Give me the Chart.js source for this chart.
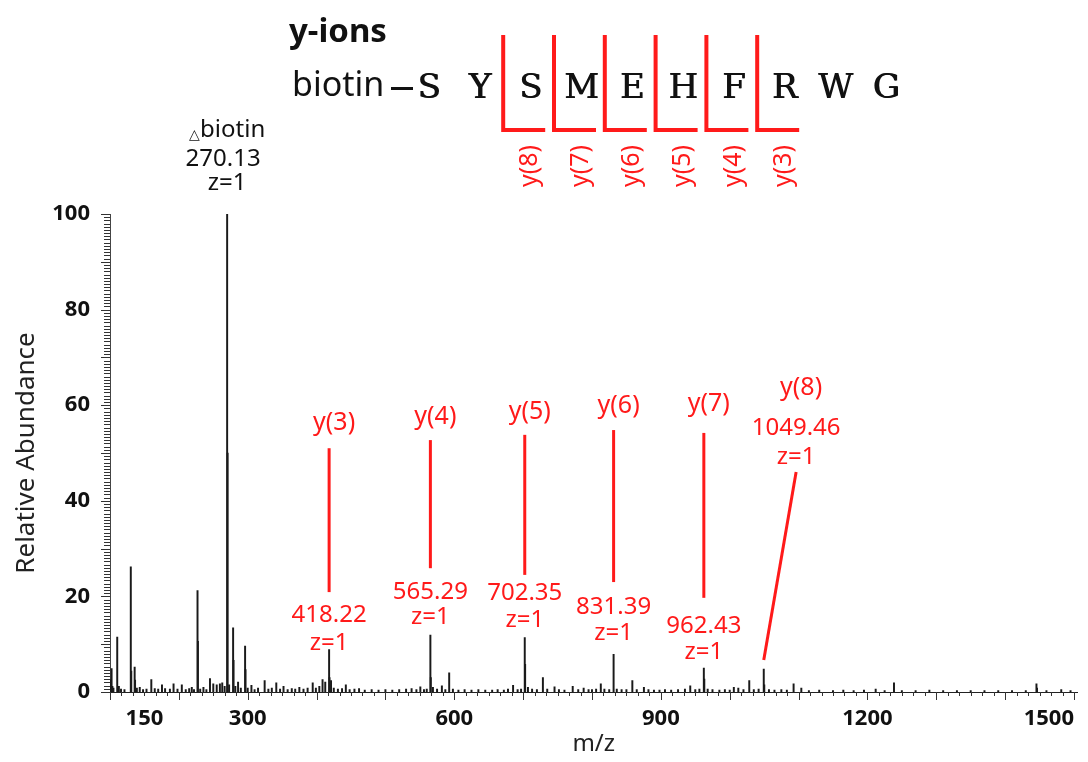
<!DOCTYPE html>
<html>
<head>
<meta charset="utf-8">
<title>biotin-SYSMEHFRWG MS/MS spectrum</title>
<script src="https://cdn.jsdelivr.net/npm/chart.js@4.4.1/dist/chart.umd.min.js"></script>
<style>
  html, body { margin: 0; padding: 0; background: #fff; }
  canvas { display: block; }
</style>
</head>
<body>
<canvas id="spectrum" width="1088" height="762"></canvas>
<script>
// Peptide drawn in the header
const sequence = ["S", "Y", "S", "M", "E", "H", "F", "R", "W", "G"];

// Annotated y-ion fragments
const ionLabels = ["y(3)", "y(4)", "y(5)", "y(6)", "y(7)", "y(8)"];
const ionMz = [418.22, 565.29, 702.35, 831.39, 962.43, 1049.46];
const ionCharge = [1, 1, 1, 1, 1, 1];

// Biotin fragment
const biotinMz = 270.13;
const biotinCharge = 1;

// Centroid peak list (m/z, relative abundance)
const peakMz = [
  101.5, 102.3, 103.5, 105, 110.5, 112.9, 116, 121, 130.2, 130.9,
  135.8, 136.4, 139, 143.2, 148, 153, 160, 165, 170, 175.5,
  180, 187, 192.3, 198, 204.3, 210, 215, 218.8, 222, 227.1,
  227.7, 231, 235.7, 240, 245.2, 250, 255, 259.6, 263, 266.5,
  270.13, 270.8, 273, 278.8, 279.4, 282, 286, 290, 296.2, 296.8,
  300, 305.4, 310, 315, 324.6, 330, 335, 341.5, 347, 352,
  358, 364, 369, 375, 381, 387, 394.4, 399, 404, 408.7,
  412.6, 418.22, 418.8, 421, 425, 431, 437, 442.5, 448, 455,
  461.7, 470, 480, 490, 500, 510, 520, 530, 538, 545,
  550.7, 556, 560, 565.29, 565.9, 569, 575, 582, 587, 592.6,
  598, 606, 615, 625, 635, 645, 655, 663, 672, 678,
  685.4, 692, 697, 702.35, 702.9, 707, 713, 720, 728.7, 735,
  745.6, 752, 760, 772, 780, 787.9, 795, 800, 806, 812.8,
  818, 825, 831.39, 836, 843, 850, 858.6, 865, 875.4, 882,
  890, 898, 906, 915, 925, 935, 942.7, 950, 956, 962.43,
  963.1, 968, 975, 985, 993, 1000, 1006, 1012.5, 1020, 1028.4,
  1035, 1042, 1049.46, 1050.2, 1057, 1065, 1075, 1083, 1092.8, 1104,
  1115, 1130, 1150, 1165, 1180, 1195, 1212, 1225, 1238.6, 1250,
  1270, 1290, 1310, 1330, 1350, 1370, 1390, 1410, 1430, 1445.5,
  1446.3, 1460, 1481.5, 1495
];
const peakAbundance = [
  2.6, 4.9, 1.2, 0.8, 11.5, 1.2, 0.6, 0.5, 26.2, 4.4,
  5.2, 2.5, 0.8, 1.0, 0.5, 0.6, 2.6, 0.7, 0.6, 1.5,
  0.7, 0.6, 1.7, 0.6, 1.5, 0.5, 0.7, 1.0, 0.5, 21.2,
  10.6, 0.6, 1.0, 0.5, 2.8, 1.7, 1.5, 1.7, 1.9, 1.2,
  100, 50, 1.5, 13.4, 6.6, 1.2, 2.1, 0.8, 9.6, 4.7,
  0.8, 1.4, 0.5, 0.8, 2.4, 0.6, 0.8, 1.9, 0.6, 1.2,
  0.5, 0.7, 0.6, 1.0, 0.6, 0.8, 1.9, 0.8, 1.2, 2.6,
  2.1, 8.9, 3.0, 2.4, 0.8, 0.6, 0.7, 1.5, 0.5, 0.6,
  0.7, 0.4, 0.5, 0.4, 0.5, 0.4, 0.5, 0.6, 0.7, 0.5,
  1.1, 0.5, 0.6, 11.9, 3.0, 1.0, 0.6, 1.3, 0.5, 4.0,
  0.6, 0.4, 0.5, 0.4, 0.5, 0.4, 0.4, 0.5, 0.4, 0.6,
  1.4, 0.5, 0.6, 11.4, 5.8, 1.0, 0.6, 0.5, 3.0, 0.6,
  1.1, 0.5, 0.4, 1.2, 0.5, 0.8, 0.5, 0.5, 0.6, 1.7,
  0.6, 0.5, 7.9, 0.6, 0.5, 0.5, 2.4, 0.5, 1.0, 0.5,
  0.4, 0.4, 0.5, 0.4, 0.5, 0.6, 1.3, 0.5, 0.6, 5.0,
  2.7, 0.6, 0.5, 0.4, 0.5, 0.4, 1.0, 0.8, 0.5, 2.4,
  0.5, 0.6, 4.8, 1.5, 0.5, 0.4, 0.5, 0.4, 1.7, 0.8,
  0.3, 0.4, 0.3, 0.4, 0.3, 0.4, 0.6, 0.3, 1.9, 0.3,
  0.3, 0.4, 0.3, 0.3, 0.3, 0.3, 0.3, 0.3, 0.3, 1.7,
  0.8, 0.3, 0.5, 0.3
];

// Axis ticks (the blank one at 100 only anchors the label alignment)
const xTickValues = [100, 150, 300, 600, 900, 1200, 1500];
const xTickLabels = ["", "150", "300", "600", "900", "1200", "1500"];
const yTickValues = [0, 20, 40, 60, 80, 100];

// Where each callout sits, in axis units (abundance); shift is in m/z
const calloutGeometry = [
  { shift: 0, name: 56.2, lineTop: 51.0, lineBottom: 20.9, mass: 16.1, charge: 10.3 },
  { shift: 0, name: 57.6, lineTop: 52.7, lineBottom: 25.9, mass: 20.9, charge: 15.7 },
  { shift: 0, name: 58.6, lineTop: 53.8, lineBottom: 24.5, mass: 20.7, charge: 15.1 },
  { shift: 0, name: 59.8, lineTop: 54.8, lineBottom: 23.0, mass: 17.8, charge: 12.3 },
  { shift: 0, name: 60.2, lineTop: 54.2, lineBottom: 19.7, mass: 13.8, charge: 8.4 },
  { shift: 47, name: 63.6, lineTop: 46.0, lineBottom: 6.7, mass: 55.2, charge: 49.2 },
];

const RED = "#ff1a1a";
const SANS = '"Noto Sans", "Open Sans", sans-serif';

// Ruler-style tick marks on both axes
const rulerTicks = {
  id: "rulerTicks",
  afterDraw(chart) {
    const { ctx, scales: { x, y } } = chart;
    ctx.save();
    ctx.strokeStyle = "#333";
    ctx.lineWidth = 1;
    ctx.beginPath();

    const xStep = 100 / 6;
    for (let i = 0; x.min + i * xStep <= 1500 + 1e-6; i++) {
      const px = Math.round(x.getPixelForValue(x.min + i * xStep)) + 0.5;
      const len = i % 6 === 0 ? 8 : 4;
      ctx.moveTo(px, y.bottom);
      ctx.lineTo(px, y.bottom + len);
    }

    const yStep = 100 / 150;
    for (let i = 0; i <= 150; i++) {
      const py = Math.round(y.getPixelForValue(i * yStep)) + 0.5;
      const len = i % 15 === 0 ? 9 : 6;
      ctx.moveTo(x.left, py);
      ctx.lineTo(x.left - len, py);
    }
    ctx.stroke();
    ctx.restore();
  },
};

// Fragment labels and leader lines
const callouts = {
  id: "callouts",
  afterDraw(chart) {
    const { ctx, scales: { x, y } } = chart;
    ctx.save();
    ctx.textAlign = "center";
    ctx.textBaseline = "middle";

    // biotin fragment, above the base peak
    const bx = x.getPixelForValue(biotinMz);
    ctx.fillStyle = "#111";
    ctx.font = "14px " + SANS;
    const triW = ctx.measureText("△").width;
    ctx.font = "24px " + SANS;
    const wordW = ctx.measureText("biotin").width;
    const left = bx - (triW + wordW) / 2;
    ctx.textAlign = "left";
    ctx.font = "14px " + SANS;
    ctx.fillText("△", left, y.getPixelForValue(116.6));
    ctx.font = "24px " + SANS;
    ctx.fillText("biotin", left + triW, y.getPixelForValue(117.6));
    ctx.textAlign = "center";
    ctx.fillText(biotinMz.toFixed(2), bx - 4, y.getPixelForValue(111.5));
    ctx.fillText("z=" + biotinCharge, bx, y.getPixelForValue(106.5));

    // y-ions
    ctx.fillStyle = RED;
    ctx.strokeStyle = RED;
    ctx.lineWidth = 3;
    ionMz.forEach((mz, i) => {
      const g = calloutGeometry[i];
      const px = x.getPixelForValue(mz);
      const lx = x.getPixelForValue(mz + g.shift);
      ctx.font = "25px " + SANS;
      ctx.fillText(ionLabels[i], lx + 5, y.getPixelForValue(g.name));
      ctx.font = "24px " + SANS;
      ctx.fillText(mz.toFixed(2), lx, y.getPixelForValue(g.mass));
      ctx.fillText("z=" + ionCharge[i], lx, y.getPixelForValue(g.charge));
      ctx.beginPath();
      ctx.moveTo(lx, y.getPixelForValue(g.lineTop));
      ctx.lineTo(px, y.getPixelForValue(g.lineBottom));
      ctx.stroke();
    });
    ctx.restore();
  },
};

// Header: title, sequence and y-ion cleavage brackets
const header = {
  id: "header",
  afterDraw(chart) {
    const { ctx } = chart;
    ctx.save();
    ctx.textBaseline = "middle";
    ctx.fillStyle = "#111";
    ctx.strokeStyle = "#111";

    ctx.textAlign = "left";
    ctx.font = "bold 33px " + SANS;
    ctx.fillText("y-ions", 289, 33);
    ctx.font = "34px " + SANS;
    ctx.fillText("biotin", 292, 86);

    // linker dash between biotin and the first residue
    ctx.lineWidth = 3;
    ctx.beginPath();
    ctx.moveTo(391, 88.5);
    ctx.lineTo(413, 88.5);
    ctx.stroke();

    const letterX = sequence.map((_, i) => 429 + i * 50.8);
    ctx.textAlign = "center";
    ctx.textBaseline = "alphabetic";
    ctx.font = '34px "DejaVu Serif", serif';
    sequence.forEach((res, i) => {
      ctx.fillText(res, letterX[i], 98);
      // a light overdraw thickens the strokes a little
      ctx.fillText(res, letterX[i] + 0.8, 98);
    });

    ctx.textBaseline = "middle";
    ctx.strokeStyle = RED;
    ctx.fillStyle = RED;
    ctx.lineWidth = 4;
    ctx.font = "25px " + SANS;
    for (let i = 2; i <= 7; i++) {
      const xb = (letterX[i - 1] + letterX[i]) / 2 - 2;
      ctx.beginPath();
      ctx.moveTo(xb, 35);
      ctx.lineTo(xb, 130);
      ctx.lineTo(xb + 42, 130);
      ctx.stroke();

      ctx.save();
      ctx.translate(xb + 27, 166);
      ctx.rotate(-Math.PI / 2);
      ctx.fillText("y(" + (sequence.length - i) + ")", 0, 0);
      ctx.restore();
    }
    ctx.restore();
  },
};

function buildSpectrum() {
  const ctx = document.getElementById("spectrum");
  const points = peakMz.map((mz, i) => ({ x: mz, y: peakAbundance[i] }));

  new Chart(ctx, {
    type: "bar",
    data: {
      datasets: [
        {
          data: points,
          backgroundColor: "#1a1a1a",
          borderWidth: 0,
          barThickness: 1.3,
        },
      ],
    },
    options: {
      responsive: false,
      animation: false,
      layout: { padding: { top: 214, right: 5, left: 0, bottom: 0 } },
      plugins: {
        legend: { display: false },
        tooltip: { enabled: false },
      },
      scales: {
        x: {
          type: "linear",
          min: 100,
          max: 1505,
          offset: false,
          grid: { display: false, drawTicks: false },
          border: { display: true, color: "#222", width: 1 },
          afterBuildTicks: (scale) => {
            scale.ticks = xTickValues.map((v) => ({ value: v }));
          },
          afterFit: (scale) => {
            scale.height = 70;
          },
          ticks: {
            align: "inner",
            padding: 14,
            color: "#111",
            font: { family: '"Open Sans", sans-serif', size: 22, weight: "bold" },
            callback: (value) => xTickLabels[xTickValues.indexOf(value)],
          },
          title: {
            display: true,
            text: "m/z",
            color: "#222",
            font: { family: SANS, size: 24 },
            padding: { top: 0, bottom: 3 },
          },
        },
        y: {
          min: 0,
          max: 100,
          grid: { display: false, drawTicks: false },
          border: { display: true, color: "#444", width: 1 },
          afterBuildTicks: (scale) => {
            scale.ticks = yTickValues.map((v) => ({ value: v }));
          },
          afterFit: (scale) => {
            scale.width = 110;
          },
          ticks: {
            padding: 20,
            color: "#111",
            font: { family: '"Open Sans", sans-serif', size: 22, weight: "bold" },
          },
          title: {
            display: true,
            text: "Relative Abundance",
            color: "#222",
            font: { family: SANS, size: 26 },
            padding: { top: 11, bottom: 0 },
          },
        },
      },
    },
    plugins: [rulerTicks, callouts, header],
  });
}

document.addEventListener("DOMContentLoaded", buildSpectrum);
</script>
</body>
</html>
